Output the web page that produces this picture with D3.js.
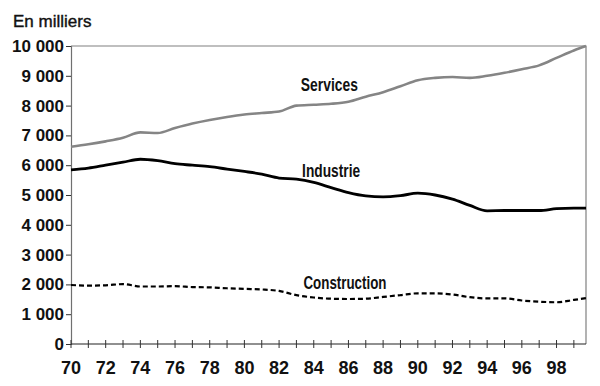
<!DOCTYPE html>
<html>
<head>
<meta charset="utf-8">
<script src="https://cdn.jsdelivr.net/npm/d3@7"></script>
<style>
	body { margin: 0; background: #fff; }
	svg { display: block; }
	.tick-label { font-family: "Liberation Sans", Arial, sans-serif; font-weight: bold; font-size: 17px; fill: #111; }
	.series-label { font-family: "Liberation Sans", Arial, sans-serif; font-weight: bold; font-size: 18px; fill: #111; }
</style>
</head>
<body>
<svg id="chart" width="600" height="386"></svg>
<script>
// years (last point is part-way through 1999)
const years = [70, 71, 72, 73, 74, 75, 76, 77, 78, 79, 80, 81, 82, 83, 84, 85, 86, 87, 88, 89,
	90, 91, 92, 93, 94, 95, 96, 97, 98, 99, 99.7]

const services = [6620, 6700, 6800, 6920, 7100, 7080, 7250, 7400, 7520, 7620, 7700, 7750, 7800, 8000, 8030, 8060,
	8130, 8300, 8450, 8650, 8850, 8930, 8960, 8930, 9000, 9100, 9220, 9350, 9600, 9850, 10000]
const industrie = [5840, 5900, 6000, 6100, 6200, 6150, 6050, 6000, 5950, 5870, 5790, 5700, 5570, 5530, 5420, 5250,
	5080, 4970, 4940, 4980, 5060, 5000, 4860, 4650, 4470, 4480, 4480, 4480, 4540, 4560, 4560]
const construction = [1980, 1960, 1970, 2010, 1930, 1930, 1940, 1910, 1900, 1870, 1850, 1830, 1780, 1640, 1560, 1520,
	1510, 1520, 1580, 1640, 1700, 1700, 1660, 1570, 1530, 1530, 1460, 1420, 1400, 1480, 1540]

const yTicks = [0, 1000, 2000, 3000, 4000, 5000, 6000, 7000, 8000, 9000, 10000]
const xLabelYears = [70, 72, 74, 76, 78, 80, 82, 84, 86, 88, 90, 92, 94, 96, 98]
const xTickYears = d3.range(70, 100)

const svg = d3.select('#chart')
const margin = { left: 71, top: 46, right: 14, bottom: 42 }
const W = 600, H = 386

const x = d3.scaleLinear().domain([70, 99.7]).range([margin.left, W - margin.right])
const y = d3.scaleLinear().domain([0, 10000]).range([H - margin.bottom, margin.top])

const fr = d3.formatLocale({ decimal: ",", thousands: "\u00a0", grouping: [3], currency: ["", " €"] })
const fmt = fr.format(",d")

// frame: top and right
svg.append('path')
	.attr('d', `M${x(70)},${y(10000)}H${x(99.7)}V${y(0)}`)
	.attr('fill', 'none').attr('stroke', '#808080').attr('stroke-width', 1.2)

// y axis
const yAxis = svg.append('g').attr('transform', `translate(${margin.left},0)`)
	.call(d3.axisLeft(y).tickValues(yTicks).tickFormat(fmt).tickSize(5).tickPadding(2))
yAxis.select('.domain').attr('stroke', '#707070').attr('stroke-width', 1.2)
yAxis.selectAll('.tick line').attr('stroke', '#333')
yAxis.selectAll('.tick text').attr('class', 'tick-label').attr('font-size', null).attr('font-family', null)

// x axis
const xAxis = svg.append('g').attr('transform', `translate(0,${y(0)})`)
xAxis.append('line').attr('x1', x(70)).attr('x2', x(99.7)).attr('stroke', '#222').attr('stroke-width', 1.2)
xAxis.selectAll('.xt').data(xTickYears).join('line')
	.attr('x1', d => x(d)).attr('x2', d => x(d))
	.attr('y1', -4).attr('y2', 4)
	.attr('stroke', '#333')
xAxis.selectAll('.xl').data(xLabelYears).join('text')
	.attr('class', 'tick-label')
	.attr('x', d => x(d)).attr('y', 30)
	.attr('text-anchor', 'middle')
	.style('font-size', '18px')
	.text(d => d)

svg.append('text').attr('class', 'tick-label')
	.attr('x', 13).attr('y', 27)
	.style('font-weight', 'normal')
	.attr('stroke', '#111').attr('stroke-width', 0.4)
	.text('En milliers')

const line = d3.line().x((d, i) => x(years[i])).y(d => y(d)).curve(d3.curveMonotoneX)

svg.append('path').datum(services).attr('d', line)
	.attr('fill', 'none').attr('stroke', '#858585').attr('stroke-width', 2.6)
svg.append('path').datum(industrie).attr('d', line)
	.attr('fill', 'none').attr('stroke', '#000').attr('stroke-width', 2.8)
svg.append('path').datum(construction).attr('d', line)
	.attr('fill', 'none').attr('stroke', '#000').attr('stroke-width', 2.2)
	.attr('stroke-dasharray', '5,3')

// labels are condensed in the original, squeeze them to the measured widths
const labels = [
	{ text: 'Services', year: 84.9, value: 8500, width: 57 },
	{ text: 'Industrie', year: 85.0, value: 5600, width: 58 },
	{ text: 'Construction', year: 85.8, value: 1850, width: 83 }
]
svg.selectAll('.series-label').data(labels).join('text')
	.attr('class', 'series-label')
	.attr('x', d => x(d.year) - d.width / 2).attr('y', d => y(d.value))
	.attr('textLength', d => d.width)
	.attr('lengthAdjust', 'spacingAndGlyphs')
	.text(d => d.text)
</script>
</body>
</html>
